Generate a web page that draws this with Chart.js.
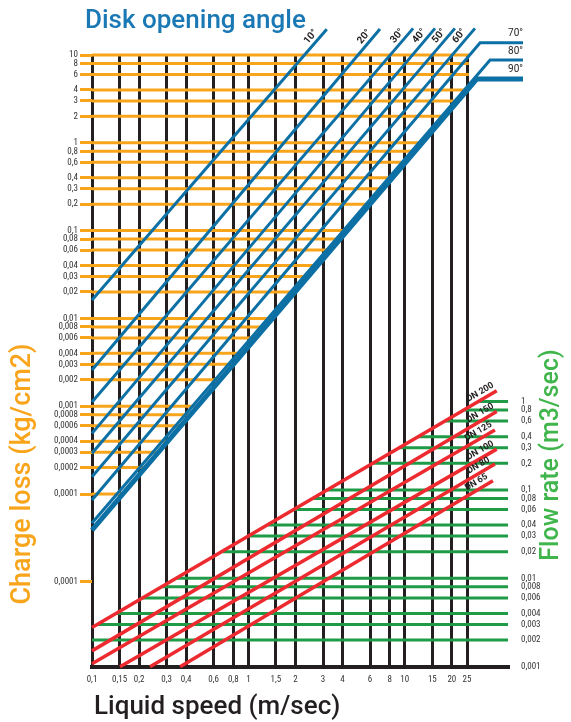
<!DOCTYPE html>
<html lang="en">
<head>
<meta charset="UTF-8">
<title>Disk opening angle</title>
<style>
  body { margin: 0; background: #fff; }
  canvas { display: block; }
</style>
<script src="https://cdn.jsdelivr.net/npm/chart.js"></script>
</head>
<body>
<canvas id="nomogram" width="571" height="722"></canvas>
<script>
// bottom axis: liquid speed (m/sec)
const speedTicks = [0.1, 0.15, 0.2, 0.3, 0.4, 0.6, 0.8, 1, 1.5, 2, 3, 4, 6, 8, 10, 15, 20, 25];
const speedLabels = ['0,1', '0,15', '0,2', '0,3', '0,4', '0,6', '0,8', '1', '1,5', '2', '3', '4', '6', '8', '10', '15', '20', '25'];

// left axis: charge loss (kg/cm2) - last tick is printed "0,0001" on the original too
const lossTicks = [10, 8, 6, 4, 3, 2, 1, 0.8, 0.6, 0.4, 0.3, 0.2, 0.1, 0.08, 0.06, 0.04, 0.03, 0.02,
  0.01, 0.008, 0.006, 0.004, 0.003, 0.002, 0.001, 0.0008, 0.0006, 0.0004, 0.0003, 0.0002, 0.0001, 0.00001];
const lossLabels = ['10', '8', '6', '4', '3', '2', '1', '0,8', '0,6', '0,4', '0,3', '0,2', '0,1', '0,08', '0,06', '0,04', '0,03', '0,02',
  '0,01', '0,008', '0,006', '0,004', '0,003', '0,002', '0,001', '0,0008', '0,0006', '0,0004', '0,0003', '0,0002', '0,0001', '0,0001'];

// right axis: flow rate (m3/sec)
const flowTicks = [1, 0.8, 0.6, 0.4, 0.3, 0.2, 0.1, 0.08, 0.06, 0.04, 0.03, 0.02, 0.01, 0.008, 0.006, 0.004, 0.003, 0.002, 0.001];
const flowLabels = ['1', '0,8', '0,6', '0,4', '0,3', '0,2', '0,1', '0,08', '0,06', '0,04', '0,03', '0,02', '0,01', '0,008', '0,006', '0,004', '0,003', '0,002', '0,001'];

// disk opening angle lines (charge loss vs speed)
const angleLabels = ['10°', '20°', '30°', '40°', '50°', '60°', '70°', '80°', '90°'];
const angleStartLoss = [0.0162, 0.00258, 0.00112, 0.000491, 0.000291, 0.000157, 0.0000855, 0.0000468, 0.0000389]; // at 0,1 m/sec
const angleEndSpeed = [3.17, 6.94, 11.3, 15.6, 20.9, 28.1, 30.3, 35.1, 28.9];
const angleEndLoss = [19.6, 19.8, 20.1, 20.1, 20.1, 20.1, 13.8, 8.77, 5.33];
const bentTailSpeed = 57; // 70°, 80°, 90° turn flat to the right

// pipe size lines (flow rate vs speed)
const dnLabels = ['DN 200', 'DN 150', 'DN 125', 'DN 100', 'DN 80', 'DN 65'];
const dnStartSpeed = [0.1, 0.1, 0.1, 0.151, 0.235, 0.366];
const dnStartFlow = [0.00277, 0.00151, 0.00108, 0.001, 0.001, 0.001];
const dnEndSpeed = [38.7, 38.7, 37.7, 38.7, 37.7, 36.6];
const dnEndFlow = [1.32, 0.77, 0.475, 0.289, 0.196, 0.127];

const ORANGE = '#f9a51c';
const BLUE = '#0d70a5';
const RED = '#ec2a2f';
const GREEN = '#1f9a46';
const INK = '#231f20';
const TICK_FONT = { family: "'Roboto Condensed', 'Liberation Sans Narrow', Roboto, sans-serif", size: 9 };

const speedMin = 0.1, speedMax = 45.7, orangeCap = 25.7;

// speed at which a straight log-log segment reaches a level
function crossSpeed(level, x0, y0, x1, y1) {
  const t = (Math.log10(level) - Math.log10(y0)) / (Math.log10(y1) - Math.log10(y0));
  return Math.pow(10, Math.log10(x0) + t * (Math.log10(x1) - Math.log10(x0)));
}

const datasets = [];

// orange loss lines stop at the 90° line
const last = angleLabels.length - 1;
lossTicks.forEach(v => {
  let end = v >= angleEndLoss[last] ? orangeCap
    : crossSpeed(v, speedMin, angleStartLoss[last], angleEndSpeed[last], angleEndLoss[last]);
  end = Math.min(end, orangeCap);
  if (end <= speedMin) return;
  datasets.push({ data: [{ x: speedMin, y: v }, { x: end, y: v }], yAxisID: 'y',
    borderColor: ORANGE, borderWidth: 3, order: 3 });
});

// green flow lines start at the DN 200 line
flowTicks.forEach(v => {
  if (v <= 0.001) return;
  const start = Math.max(speedMin, crossSpeed(v, dnStartSpeed[0], dnStartFlow[0], dnEndSpeed[0], dnEndFlow[0]));
  datasets.push({ data: [{ x: start, y: v }, { x: speedMax, y: v }], yAxisID: 'y2',
    borderColor: GREEN, borderWidth: 3, order: 3 });
});

const angleIndex = [];
angleLabels.forEach((name, i) => {
  const pts = [{ x: speedMin, y: angleStartLoss[i] }, { x: angleEndSpeed[i], y: angleEndLoss[i] }];
  if (i >= 6) pts.push({ x: bentTailSpeed, y: angleEndLoss[i] });
  angleIndex.push(datasets.length);
  datasets.push({ data: pts, yAxisID: 'y', borderColor: BLUE, borderWidth: i === last ? 5 : 3, order: 1 });
});

const dnIndex = [];
dnLabels.forEach((name, i) => {
  dnIndex.push(datasets.length);
  datasets.push({ data: [{ x: dnStartSpeed[i], y: dnStartFlow[i] }, { x: dnEndSpeed[i], y: dnEndFlow[i] }],
    yAxisID: 'y2', borderColor: RED, borderWidth: 3.5, order: 2 });
});

datasets.forEach(d => {
  d.type = 'line';
  d.pointRadius = 0;
  d.clip = false;
  d.borderCapStyle = 'butt';
});

function lineLabel(ctx, meta, text, back, side, font) {
  const pts = meta.data;
  const p0 = pts[0], p1 = pts[1];
  const a = Math.atan2(p1.y - p0.y, p1.x - p0.x);
  const ux = Math.cos(a), uy = Math.sin(a);
  const cx = p1.x - back * ux + side * uy;
  const cy = p1.y - back * uy - side * ux;
  ctx.save();
  ctx.translate(cx, cy);
  ctx.rotate(a);
  ctx.font = font;
  ctx.fillStyle = INK;
  ctx.textAlign = 'center';
  ctx.textBaseline = 'middle';
  ctx.fillText(text, 0, 0);
  ctx.restore();
}

const textPlugin = {
  id: 'texts',
  afterDraw(chart) {
    const ctx = chart.ctx;
    // angle names
    angleLabels.forEach((name, i) => {
      const meta = chart.getDatasetMeta(angleIndex[i]);
      if (i < 6) {
        lineLabel(ctx, meta, name, 16, 7, 'bold 10px Roboto, sans-serif');
      } else {
        const p = meta.data[meta.data.length - 1];
        ctx.save();
        ctx.font = '10px Roboto, sans-serif';
        ctx.fillStyle = INK;
        ctx.textAlign = 'right';
        ctx.textBaseline = 'bottom';
        ctx.fillText(name, p.x, p.y - 4);
        ctx.restore();
      }
    });
    // pipe sizes
    dnLabels.forEach((name, i) => {
      lineLabel(ctx, chart.getDatasetMeta(dnIndex[i]), name, 15, 7, 'bold 9px Roboto, sans-serif');
    });

    ctx.save();
    ctx.font = '500 26px Roboto, sans-serif';
    ctx.textBaseline = 'alphabetic';
    ctx.fillStyle = '#1a78b4';
    ctx.textAlign = 'left';
    ctx.fillText('Disk opening angle', 85, 28);
    ctx.fillStyle = INK;
    ctx.fillText('Liquid speed (m/sec)', 94, 714);

    ctx.textAlign = 'center';
    ctx.textBaseline = 'middle';
    ctx.font = '500 27px Roboto, sans-serif';
    ctx.translate(23, 474);
    ctx.rotate(-Math.PI / 2);
    ctx.fillStyle = ORANGE;
    ctx.fillText('Charge loss (kg/cm2)', 0, 0);
    ctx.restore();

    ctx.save();
    ctx.font = '500 25px Roboto, sans-serif';
    ctx.textAlign = 'center';
    ctx.textBaseline = 'middle';
    ctx.translate(552, 455);
    ctx.rotate(-Math.PI / 2);
    ctx.fillStyle = '#3fb54b';
    ctx.fillText('Flow rate (m3/sec)', 0, 0);
    ctx.restore();
  }
};

new Chart(document.getElementById('nomogram'), {
  type: 'line',
  data: { datasets: datasets },
  options: {
    responsive: false,
    animation: false,
    layout: { padding: { top: 55, left: 0, right: 0, bottom: 0 } },
    plugins: { legend: { display: false }, tooltip: { enabled: false } },
    elements: { line: { tension: 0 } },
    scales: {
      x: {
        type: 'logarithmic',
        min: speedMin,
        max: speedMax,
        afterBuildTicks: axis => { axis.ticks = speedTicks.map(v => ({ value: v })); },
        afterFit: axis => { axis.height = 55.3; },
        ticks: {
          autoSkip: false, maxRotation: 0, padding: 8, color: '#333', font: TICK_FONT,
          callback: v => speedLabels[speedTicks.indexOf(v)]
        },
        grid: { color: INK, lineWidth: 3, drawTicks: false },
        border: { display: true, color: INK, width: 4 }
      },
      y: {
        type: 'logarithmic',
        position: 'left',
        min: 1.08e-6,
        max: 10,
        afterBuildTicks: axis => { axis.ticks = lossTicks.map(v => ({ value: v })); },
        afterFit: axis => { axis.width = 92; },
        ticks: {
          autoSkip: false, padding: 2, color: '#333', font: TICK_FONT,
          callback: (v, i) => lossLabels[i]
        },
        grid: { color: ORANGE, lineWidth: 3, drawOnChartArea: false, drawTicks: true, tickLength: 12 },
        border: { display: false }
      },
      y2: {
        type: 'logarithmic',
        position: 'right',
        min: 0.001,
        max: 8300,
        afterBuildTicks: axis => { axis.ticks = flowTicks.map(v => ({ value: v })); },
        afterFit: axis => { axis.width = 63; },
        ticks: {
          autoSkip: false, padding: 5, color: '#333', font: TICK_FONT,
          callback: (v, i) => flowLabels[i]
        },
        grid: { display: false },
        border: { display: false }
      }
    }
  },
  plugins: [textPlugin]
});
</script>
</body>
</html>
